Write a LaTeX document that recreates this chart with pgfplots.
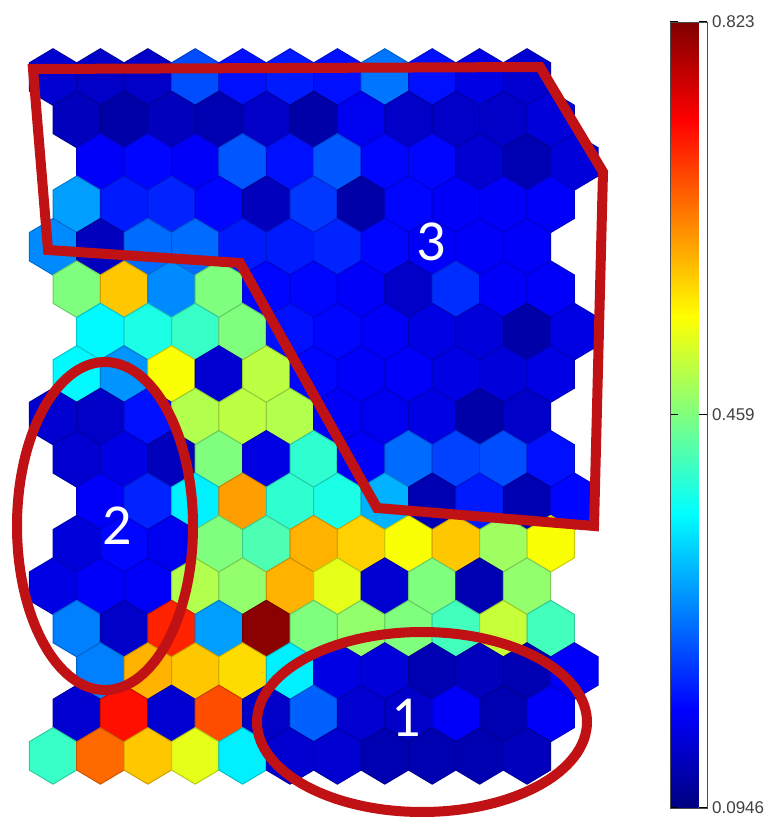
\documentclass[border=0pt]{standalone}
\usepackage{pgfplots}
\usepackage{pgfplotstable}
\pgfplotsset{compat=1.18}
\usepackage{fontspec}
\setmainfont{Liberation Sans}
\newfontfamily\carlito{Carlito}
\definecolor{annot}{RGB}{192,18,20}

\pgfdeclareplotmark{hexa}{%
  \pgfpathmoveto{\pgfqpoint{0pt}{14.14pt}}%
  \pgfpathlineto{\pgfqpoint{11.85pt}{7.07pt}}%
  \pgfpathlineto{\pgfqpoint{11.85pt}{-7.07pt}}%
  \pgfpathlineto{\pgfqpoint{0pt}{-14.14pt}}%
  \pgfpathlineto{\pgfqpoint{-11.85pt}{-7.07pt}}%
  \pgfpathlineto{\pgfqpoint{-11.85pt}{7.07pt}}%
  \pgfpathclose
  \pgfusepathqfillstroke}

% gx: half-column index, gy: row index, u: U-matrix value
\pgfplotstableread[row sep=\\]{
gx gy u\\
0 0 0.153\\ 2 0 0.146\\ 4 0 0.146\\ 6 0 0.240\\ 8 0 0.197\\ 10 0 0.204\\ 12 0 0.197\\ 14 0 0.269\\ 16 0 0.197\\ 18 0 0.167\\ 20 0 0.153\\
1 1 0.138\\ 3 1 0.124\\ 5 1 0.138\\ 7 1 0.131\\ 9 1 0.146\\ 11 1 0.124\\ 13 1 0.175\\ 15 1 0.146\\ 17 1 0.146\\ 19 1 0.146\\ 21 1 0.160\\
2 2 0.182\\ 4 2 0.189\\ 6 2 0.182\\ 8 2 0.248\\ 10 2 0.197\\ 12 2 0.248\\ 14 2 0.189\\ 16 2 0.189\\ 18 2 0.153\\ 20 2 0.131\\ 22 2 0.160\\
1 3 0.299\\ 3 3 0.204\\ 5 3 0.211\\ 7 3 0.189\\ 9 3 0.138\\ 11 3 0.226\\ 13 3 0.124\\ 15 3 0.189\\ 17 3 0.182\\ 19 3 0.182\\ 21 3 0.182\\
0 4 0.284\\ 2 4 0.138\\ 4 4 0.262\\ 6 4 0.262\\ 8 4 0.204\\ 10 4 0.204\\ 12 4 0.211\\ 14 4 0.189\\ 16 4 0.182\\ 18 4 0.182\\ 20 4 0.182\\
1 5 0.459\\ 3 5 0.590\\ 5 5 0.284\\ 7 5 0.459\\ 9 5 0.189\\ 11 5 0.189\\ 13 5 0.182\\ 15 5 0.146\\ 17 5 0.218\\ 19 5 0.182\\ 21 5 0.182\\
2 6 0.364\\ 4 6 0.386\\ 6 6 0.408\\ 8 6 0.459\\ 10 6 0.197\\ 12 6 0.189\\ 14 6 0.182\\ 16 6 0.167\\ 18 6 0.160\\ 20 6 0.124\\ 22 6 0.167\\
1 7 0.364\\ 3 7 0.291\\ 5 7 0.546\\ 7 7 0.153\\ 9 7 0.502\\ 11 7 0.189\\ 13 7 0.182\\ 15 7 0.182\\ 17 7 0.167\\ 19 7 0.160\\ 21 7 0.167\\
0 8 0.153\\ 2 8 0.146\\ 4 8 0.197\\ 6 8 0.495\\ 8 8 0.502\\ 10 8 0.495\\ 12 8 0.182\\ 14 8 0.175\\ 16 8 0.167\\ 18 8 0.124\\ 20 8 0.146\\
1 9 0.153\\ 3 9 0.167\\ 5 9 0.138\\ 7 9 0.459\\ 9 9 0.167\\ 11 9 0.401\\ 13 9 0.182\\ 15 9 0.262\\ 17 9 0.233\\ 19 9 0.240\\ 21 9 0.197\\
2 10 0.182\\ 4 10 0.211\\ 6 10 0.357\\ 8 10 0.619\\ 10 10 0.401\\ 12 10 0.386\\ 14 10 0.313\\ 16 10 0.131\\ 18 10 0.204\\ 20 10 0.131\\ 22 10 0.189\\
1 11 0.160\\ 3 11 0.189\\ 5 11 0.175\\ 7 11 0.459\\ 9 11 0.422\\ 11 11 0.604\\ 13 11 0.583\\ 15 11 0.546\\ 17 11 0.590\\ 19 11 0.481\\ 21 11 0.546\\
0 12 0.167\\ 2 12 0.182\\ 4 12 0.182\\ 6 12 0.495\\ 8 12 0.473\\ 10 12 0.604\\ 12 12 0.532\\ 14 12 0.153\\ 16 12 0.459\\ 18 12 0.131\\ 20 12 0.473\\
1 13 0.277\\ 3 13 0.146\\ 5 13 0.707\\ 7 13 0.299\\ 9 13 0.815\\ 11 13 0.459\\ 13 13 0.473\\ 15 13 0.459\\ 17 13 0.415\\ 19 13 0.510\\ 21 13 0.415\\
2 14 0.277\\ 4 14 0.604\\ 6 14 0.590\\ 8 14 0.575\\ 10 14 0.357\\ 12 14 0.167\\ 14 14 0.160\\ 16 14 0.131\\ 18 14 0.138\\ 20 14 0.131\\ 22 14 0.182\\
1 15 0.153\\ 3 15 0.721\\ 5 15 0.153\\ 7 15 0.677\\ 9 15 0.146\\ 11 15 0.255\\ 13 15 0.153\\ 15 15 0.146\\ 17 15 0.182\\ 19 15 0.131\\ 21 15 0.182\\
0 16 0.408\\ 2 16 0.656\\ 4 16 0.590\\ 6 16 0.532\\ 8 16 0.357\\ 10 16 0.153\\ 12 16 0.153\\ 14 16 0.131\\ 16 16 0.131\\ 18 16 0.131\\ 20 16 0.138\\
}\umat

\begin{document}
\begin{tikzpicture}
\begin{axis}[
  set layers,
  scale only axis, width=380pt, height=413.5pt,
  xmin=0, xmax=760, ymin=0, ymax=827, y dir=reverse,
  hide axis, clip=false,
  colormap/jet,
  point meta min=0.0946, point meta max=0.823,
  colorbar,
  colorbar style={
    hide axis=false, y dir=normal,
    at={(parent axis.north west)}, anchor=north west,
    xshift=326.5pt, yshift=-11pt,
    width=18.5pt, height=393pt,
    ytick={0.0946,0.459,0.823},
    yticklabels={0.0946,0.459,0.823},
    ytick pos=both, yticklabel pos=right,
    tick align=inside, major tick length=4pt,
    tick style={black, line width=0.6pt},
    axis line style={black!70, line width=0.4pt},
    yticklabel style={font=\fontsize{8.5}{8.5}\selectfont, text=black!75, xshift=-1pt},
  },
]
\path (rel axis cs:0,0) rectangle (rel axis cs:1,1);
\addplot[scatter, only marks, mark=hexa, mark options={line width=0.5pt},
  point meta=\thisrow{u}]
  table[x expr={53+23.7*\thisrow{gx}}, y expr={77+42.43*\thisrow{gy}}] {\umat};

\begin{pgfonlayer}{axis foreground}
\draw[annot, line width=5pt, line join=miter]
  (axis cs:33,69) -- (axis cs:540,67) -- (axis cs:603,172) -- (axis cs:594,526)
  -- (axis cs:377,508) -- (axis cs:240,263) -- (axis cs:48,250) -- cycle;
\draw[annot, line width=5pt] (axis cs:105,526) ellipse [x radius=44pt, y radius=82pt];
\draw[annot, line width=5pt] (axis cs:422,722) ellipse [x radius=82.5pt, y radius=45pt];
\node[text=white, font=\carlito\fontsize{29}{29}\selectfont] at (axis cs:406,718) {1};
\node[text=white, font=\carlito\fontsize{29}{29}\selectfont] at (axis cs:117,526) {2};
\node[text=white, font=\carlito\fontsize{29}{29}\selectfont] at (axis cs:431,242) {3};
\end{pgfonlayer}
\end{axis}
\end{tikzpicture}
\end{document}
